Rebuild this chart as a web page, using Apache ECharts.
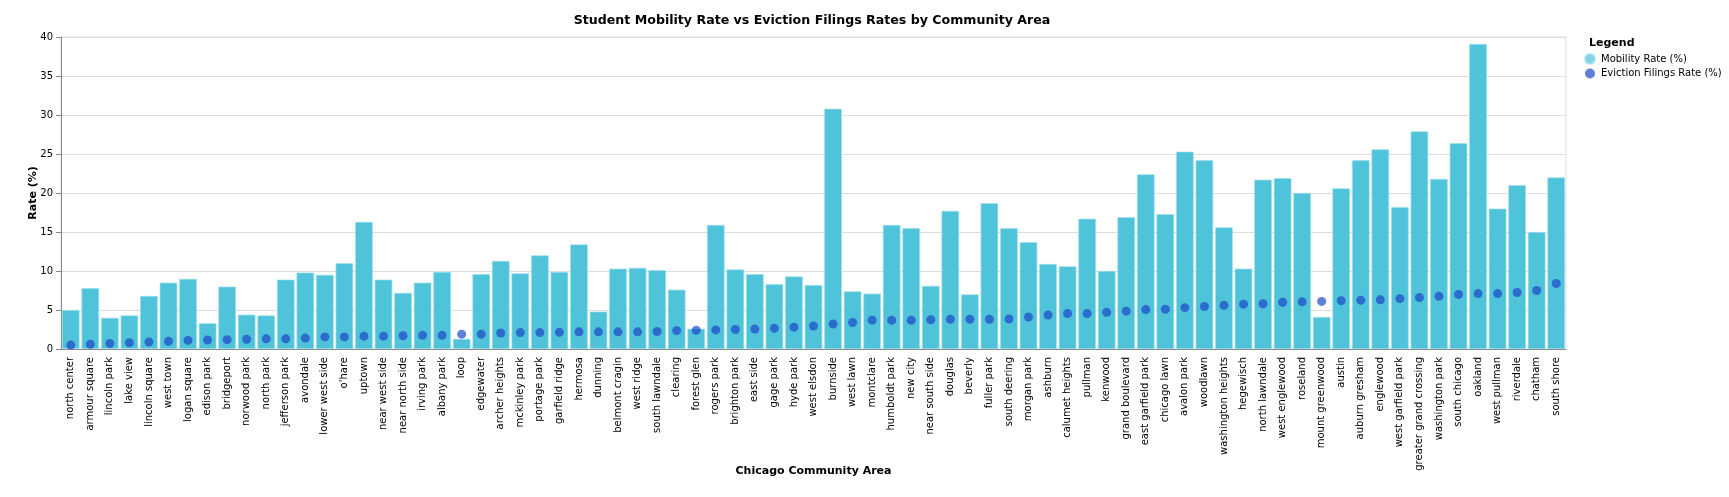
<!DOCTYPE html>
<html>
<head>
<meta charset="utf-8">
<script src="https://cdn.jsdelivr.net/npm/echarts@6/dist/echarts.min.js"></script>
<style>
html,body{margin:0;padding:0;background:#fff;}
#chart{width:1729px;height:497px;}
</style>
</head>
<body>
<div id="chart"></div>
<script>
const categories = ["north center","armour square","lincoln park","lake view","lincoln square","west town","logan square","edison park","bridgeport","norwood park","north park","jefferson park","avondale","lower west side","o'hare","uptown","near west side","near north side","irving park","albany park","loop","edgewater","archer heights","mckinley park","portage park","garfield ridge","hermosa","dunning","belmont cragin","west ridge","south lawndale","clearing","forest glen","rogers park","brighton park","east side","gage park","hyde park","west elsdon","burnside","west lawn","montclare","humboldt park","new city","near south side","douglas","beverly","fuller park","south deering","morgan park","ashburn","calumet heights","pullman","kenwood","grand boulevard","east garfield park","chicago lawn","avalon park","woodlawn","washington heights","hegewisch","north lawndale","west englewood","roseland","mount greenwood","austin","auburn gresham","englewood","west garfield park","greater grand crossing","washington park","south chicago","oakland","west pullman","riverdale","chatham","south shore"];

const mobilityRate = [5.0,7.8,4.0,4.3,6.8,8.5,9.0,3.3,8.0,4.4,4.3,8.9,9.8,9.5,11.0,16.3,8.9,7.2,8.5,9.9,1.3,9.6,11.3,9.7,12.0,9.9,13.4,4.8,10.3,10.4,10.1,7.6,2.6,15.9,10.2,9.6,8.3,9.3,8.2,30.8,7.4,7.1,15.9,15.5,8.1,17.7,7.0,18.7,15.5,13.7,10.9,10.6,16.7,10.0,16.9,22.4,17.3,25.3,24.2,15.6,10.3,21.7,21.9,20.0,4.1,20.6,24.2,25.6,18.2,27.9,21.8,26.4,39.1,18.0,21.0,15.0,22.0];

const evictionRate = [0.5,0.6,0.7,0.8,0.9,1.0,1.1,1.15,1.2,1.25,1.3,1.3,1.4,1.55,1.55,1.65,1.65,1.7,1.75,1.75,1.9,1.9,2.05,2.1,2.1,2.15,2.2,2.2,2.2,2.2,2.25,2.35,2.4,2.45,2.5,2.55,2.65,2.8,2.95,3.2,3.4,3.7,3.7,3.7,3.75,3.8,3.8,3.8,3.85,4.1,4.35,4.55,4.55,4.7,4.85,5.05,5.1,5.3,5.45,5.6,5.75,5.8,6.0,6.05,6.1,6.2,6.25,6.3,6.45,6.6,6.75,7.0,7.1,7.1,7.25,7.5,8.4];

const yTicks = [0,5,10,15,20,25,30,35,40];

const FONT = "DejaVu Sans";
const barColor = "#4fc3d9";
const dotColor = "rgb(28,72,200)";

const chart = echarts.init(document.getElementById('chart'), null, {renderer:'canvas'});
chart.setOption({
  animation:false,
  textStyle:{fontFamily:FONT},
  title:[
    {text:"Student Mobility Rate vs Eviction Filings Rates by Community Area",
     left:807, top:9, textAlign:'center',
     textStyle:{fontFamily:FONT,fontSize:12.6,fontWeight:'bold',color:'#000'}},
    {text:"Legend", left:1584, top:33,
     textStyle:{fontFamily:FONT,fontSize:11,fontWeight:'bold',color:'#000'}}
  ],
  legend:{
    orient:'vertical', left:1579, top:48,
    icon:'circle', itemWidth:10, itemHeight:10, itemGap:3.5,
    textStyle:{fontFamily:FONT,fontSize:10,color:'#000',padding:[0,0,0,1]},
    data:[
      {name:"Mobility Rate (%)", itemStyle:{color:barColor, opacity:0.7}},
      {name:"Eviction Filings Rate (%)", itemStyle:{color:dotColor, opacity:0.7}}
    ]
  },
  grid:{left:61, right:163, top:37, bottom:148, show:true, borderColor:'#ddd', borderWidth:1},
  xAxis:{
    type:'category', data:categories,
    name:"Chicago Community Area", nameLocation:'middle', nameGap:117, nameMoveOverlap:false,
    nameTextStyle:{fontFamily:FONT,fontSize:11,fontWeight:'bold',color:'#000'},
    axisLine:{lineStyle:{color:'#888'}},
    axisTick:{alignWithLabel:true,length:5,lineStyle:{color:'#888'}},
    axisLabel:{rotate:90,interval:0,margin:8,fontFamily:FONT,fontSize:10,color:'#000'}
  },
  yAxis:{
    type:'value', min:yTicks[0], max:yTicks[yTicks.length-1], interval:5,
    name:"Rate (%)", nameLocation:'middle', nameGap:22, nameMoveOverlap:false,
    nameTextStyle:{fontFamily:FONT,fontSize:11,fontWeight:'bold',color:'#000'},
    axisLine:{show:true,lineStyle:{color:'#888'}},
    axisTick:{show:true,length:5,lineStyle:{color:'#888'}},
    axisLabel:{margin:8,fontFamily:FONT,fontSize:10,color:'#000'},
    splitLine:{lineStyle:{color:'#ddd'}}
  },
  series:[
    {name:"Mobility Rate (%)", type:'bar', data:mobilityRate, barCategoryGap:'10%',
     itemStyle:{color:barColor, borderColor:'#9fdfeb', borderWidth:0.7}},
    {name:"Eviction Filings Rate (%)", type:'scatter', data:evictionRate, symbolSize:9,
     itemStyle:{color:dotColor, opacity:0.7}}
  ]
});
</script>
</body>
</html>
